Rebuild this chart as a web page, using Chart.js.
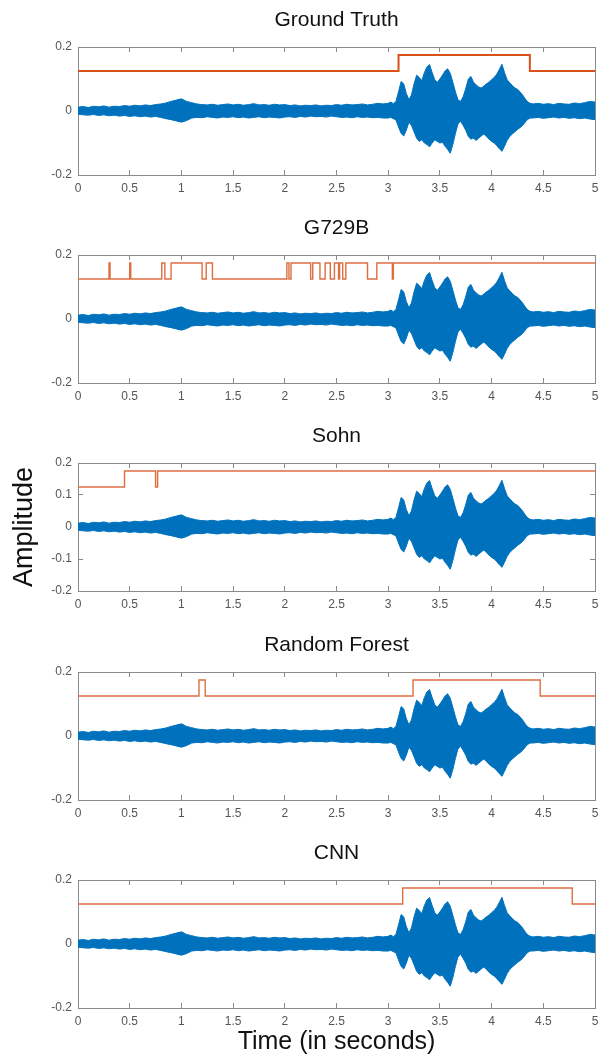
<!DOCTYPE html>
<html lang="en">
<head>
    <meta charset="UTF-8">
    <title>Voice activity detection</title>
    <script src="https://cdn.jsdelivr.net/npm/chart.js"></script>
    <style>
        body { margin: 0; background: #fff; width: 602px; height: 1059px; overflow: hidden; position: relative; }
        .painel { position: absolute; left: 0; width: 602px; }
    </style>
</head>
<body>
    <!-- um painel por grafico -->
    <div class="painel" style="top:7px;height:196px"><canvas id="grafico1"></canvas></div>
    <div class="painel" style="top:215px;height:196px"><canvas id="grafico2"></canvas></div>
    <div class="painel" style="top:423px;height:196px"><canvas id="grafico3"></canvas></div>
    <div class="painel" style="top:632px;height:196px"><canvas id="grafico4"></canvas></div>
    <div class="painel" style="top:840px;height:219px"><canvas id="grafico5"></canvas></div>

<script>
    // envelope do sinal de audio (igual nos 5 graficos), mais fino na parte com fala
    var tempoOnda = [0, 0.05, 0.1, 0.15, 0.2, 0.25, 0.3, 0.35, 0.4, 0.45,
        0.5, 0.55, 0.6, 0.65, 0.7, 0.75, 0.8, 0.85, 0.9, 0.95,
        1, 1.05, 1.1, 1.15, 1.2, 1.25, 1.3, 1.35, 1.4, 1.45,
        1.5, 1.55, 1.6, 1.65, 1.7, 1.75, 1.8, 1.85, 1.9, 1.95,
        2, 2.05, 2.1, 2.15, 2.2, 2.25, 2.3, 2.35, 2.4, 2.45,
        2.5, 2.55, 2.6, 2.65, 2.7, 2.75, 2.8, 2.85, 2.9, 2.95,
        3, 3.025, 3.05, 3.075, 3.1, 3.125, 3.15, 3.175, 3.2, 3.225,
        3.25, 3.275, 3.3, 3.325, 3.35, 3.375, 3.4, 3.425, 3.45, 3.475,
        3.5, 3.525, 3.55, 3.575, 3.6, 3.625, 3.65, 3.675, 3.7, 3.725,
        3.75, 3.775, 3.8, 3.825, 3.85, 3.875, 3.9, 3.925, 3.95, 3.975,
        4, 4.025, 4.05, 4.075, 4.1, 4.125, 4.15, 4.175, 4.2, 4.225,
        4.25, 4.275, 4.3, 4.325, 4.35, 4.375, 4.4,
        4.45, 4.5, 4.55, 4.6, 4.65, 4.7, 4.75, 4.8, 4.85, 4.9, 4.95, 5]
    var ondaSuperior = [0.012, 0.014, 0.011, 0.015, 0.013, 0.016, 0.012, 0.015, 0.014, 0.017,
        0.015, 0.018, 0.016, 0.019, 0.017, 0.020, 0.022, 0.025, 0.030, 0.034,
        0.038, 0.030, 0.026, 0.022, 0.020, 0.019, 0.021, 0.018, 0.020, 0.022,
        0.019, 0.021, 0.018, 0.020, 0.023, 0.019, 0.020, 0.018, 0.021, 0.019,
        0.020, 0.017, 0.019, 0.016, 0.018, 0.017, 0.019, 0.016, 0.018, 0.017,
        0.020, 0.018, 0.021, 0.019, 0.020, 0.022, 0.019, 0.021, 0.024, 0.022,
        0.024, 0.028, 0.023, 0.030, 0.060, 0.092, 0.085, 0.055, 0.035, 0.050,
        0.085, 0.112, 0.105, 0.095, 0.120, 0.138, 0.145, 0.120, 0.098, 0.090,
        0.100, 0.112, 0.125, 0.132, 0.118, 0.090, 0.060, 0.035, 0.030, 0.045,
        0.070, 0.100, 0.108, 0.090, 0.082, 0.075, 0.072, 0.078, 0.085, 0.090,
        0.098, 0.105, 0.115, 0.130, 0.146, 0.120, 0.098, 0.088, 0.080, 0.072,
        0.068, 0.060, 0.050, 0.038, 0.028, 0.024, 0.022,
        0.024, 0.021, 0.023, 0.020, 0.024, 0.022, 0.021, 0.025, 0.023, 0.026, 0.030, 0.028]
    var ondaInferior = [-0.010, -0.012, -0.013, -0.011, -0.014, -0.012, -0.015, -0.013, -0.016, -0.014,
        -0.017, -0.015, -0.018, -0.016, -0.019, -0.017, -0.020, -0.024, -0.027, -0.031,
        -0.035, -0.030, -0.022, -0.020, -0.021, -0.018, -0.020, -0.022, -0.019, -0.020,
        -0.018, -0.021, -0.019, -0.022, -0.020, -0.018, -0.021, -0.019, -0.020, -0.022,
        -0.019, -0.018, -0.020, -0.017, -0.019, -0.016, -0.018, -0.017, -0.019, -0.016,
        -0.018, -0.020, -0.019, -0.021, -0.018, -0.020, -0.019, -0.021, -0.020, -0.022,
        -0.022, -0.020, -0.024, -0.028, -0.050, -0.070, -0.078, -0.060, -0.035, -0.045,
        -0.065, -0.085, -0.095, -0.090, -0.100, -0.105, -0.112, -0.100, -0.090, -0.095,
        -0.100, -0.098, -0.110, -0.120, -0.132, -0.105, -0.070, -0.040, -0.032, -0.045,
        -0.060, -0.080, -0.088, -0.085, -0.092, -0.085, -0.078, -0.072, -0.080, -0.088,
        -0.095, -0.100, -0.108, -0.118, -0.126, -0.110, -0.092, -0.080, -0.072, -0.065,
        -0.058, -0.052, -0.045, -0.035, -0.026, -0.022, -0.022,
        -0.020, -0.023, -0.021, -0.019, -0.022, -0.020, -0.023, -0.021, -0.024, -0.022, -0.025, -0.027]

    // decisao de voz: cada nivel vale a partir do seu tempo
    var gtTempos = [0, 3.10, 4.37, 5]
    var gtNiveis = [0.125, 0.175, 0.125, 0.125]

    var g729Tempos = [0, 0.30, 0.31, 0.50, 0.51, 0.81, 0.84, 0.90, 1.20, 1.24, 1.30,
        2.02, 2.04, 2.06, 2.25, 2.27, 2.34, 2.39, 2.44, 2.48, 2.52, 2.53, 2.56, 2.59,
        2.80, 2.89, 3.04, 3.05, 5]
    var g729Niveis = [0.125, 0.175, 0.125, 0.175, 0.125, 0.175, 0.125, 0.175, 0.125, 0.175, 0.125,
        0.175, 0.125, 0.175, 0.125, 0.175, 0.125, 0.175, 0.125, 0.175, 0.125, 0.175, 0.125, 0.175,
        0.125, 0.175, 0.125, 0.175, 0.175]

    var sohnTempos = [0, 0.45, 0.75, 0.77, 5]
    var sohnNiveis = [0.125, 0.175, 0.125, 0.175, 0.175]

    var rfTempos = [0, 1.17, 1.23, 3.24, 4.47, 5]
    var rfNiveis = [0.125, 0.175, 0.125, 0.175, 0.125, 0.125]

    var cnnTempos = [0, 3.14, 4.78, 5]
    var cnnNiveis = [0.125, 0.175, 0.125, 0.125]

    var ticksTempo = [0, 0.5, 1, 1.5, 2, 2.5, 3, 3.5, 4, 4.5, 5]

    const fonte = '"Liberation Sans", Arial, sans-serif'
    const azul = '#0072BD'
    const cinza = '#8a8a8a'

    function pontos(tempos, valores) {
        var lista = []
        for (var i = 0; i < tempos.length; i++) {
            lista.push({ x: tempos[i], y: valores[i] })
        }
        return lista
    }

    function eixo(posicao, min, max, passo, mostrarRotulos) {
        return {
            type: 'linear',
            position: posicao,
            min: min,
            max: max,
            ticks: {
                display: mostrarRotulos,
                stepSize: passo,
                color: '#555',
                padding: 11,
                font: { family: fonte, size: 12 },
                callback: function (valor) { return String(Math.round(valor * 10) / 10) }
            },
            grid: { drawOnChartArea: false, drawTicks: true, tickLength: -5, color: cinza },
            border: { display: true, color: cinza, width: 1 }
        }
    }

    function criarGrafico(idCanvas, titulo, tempos, niveis, extra) {
        var x = eixo('bottom', 0, 5, 0.5, true)
        x.afterBuildTicks = function (escala) { escala.ticks = ticksTempo.map(v => ({ value: v })) }
        x.afterFit = function (escala) {
            escala.height = extra.alturaX || 28
            escala.paddingLeft = 0
            escala.paddingRight = 0
        }
        var x2 = eixo('top', 0, 5, 0.5, false)
        x2.afterFit = function (escala) { escala.height = 0 }
        var y = eixo('left', -0.2, 0.2, extra.passoY || 0.2, true)
        y.afterFit = function (escala) { escala.width = 78 }
        var y2 = eixo('right', -0.2, 0.2, extra.passoY || 0.2, false)
        y2.afterFit = function (escala) { escala.width = 0 }

        if (extra.tituloY) {
            y.title = { display: true, text: extra.tituloY, color: '#111',
                font: { family: fonte, size: 27 }, padding: { top: 8.8, bottom: 0 } }
        }
        if (extra.tituloX) {
            x.title = { display: true, text: extra.tituloX, color: '#111',
                font: { family: fonte, size: 25 }, padding: { top: 0, bottom: 2 } }
        }

        new Chart(document.getElementById(idCanvas), {
            type: 'line',
            data: {
                datasets: [{
                    data: pontos(tempos, niveis),
                    borderColor: extra.corDegrau || '#DE6E40',
                    borderWidth: extra.espessura || 1.4,
                    stepped: true,
                    pointRadius: 0,
                    fill: false
                }, {
                    data: pontos(tempoOnda, ondaSuperior),
                    borderColor: azul,
                    backgroundColor: azul,
                    borderWidth: 1,
                    pointRadius: 0,
                    fill: '+1'
                }, {
                    data: pontos(tempoOnda, ondaInferior),
                    borderColor: azul,
                    borderWidth: 1,
                    pointRadius: 0,
                    fill: false
                }]
            },
            options: {
                animation: false,
                responsive: true,
                maintainAspectRatio: false,
                layout: { padding: { left: 0, right: 7, top: 0, bottom: 0 } },
                plugins: {
                    legend: { display: false },
                    tooltip: { enabled: false },
                    title: {
                        display: true,
                        text: titulo,
                        color: '#111',
                        fullSize: false,
                        font: { family: fonte, size: 21, weight: 'normal' },
                        padding: { top: 1, bottom: 13.8 }
                    }
                },
                scales: { x: x, x2: x2, y: y, y2: y2 }
            }
        })
    }

    criarGrafico('grafico1', 'Ground Truth', gtTempos, gtNiveis, { espessura: 2, corDegrau: '#D95319' })
    criarGrafico('grafico2', 'G729B', g729Tempos, g729Niveis, {})
    criarGrafico('grafico3', 'Sohn', sohnTempos, sohnNiveis, { passoY: 0.1, tituloY: 'Amplitude' })
    criarGrafico('grafico4', 'Random Forest', rfTempos, rfNiveis, {})
    criarGrafico('grafico5', 'CNN', cnnTempos, cnnNiveis, { alturaX: 51, tituloX: 'Time (in seconds)' })
</script>
</body>
</html>
